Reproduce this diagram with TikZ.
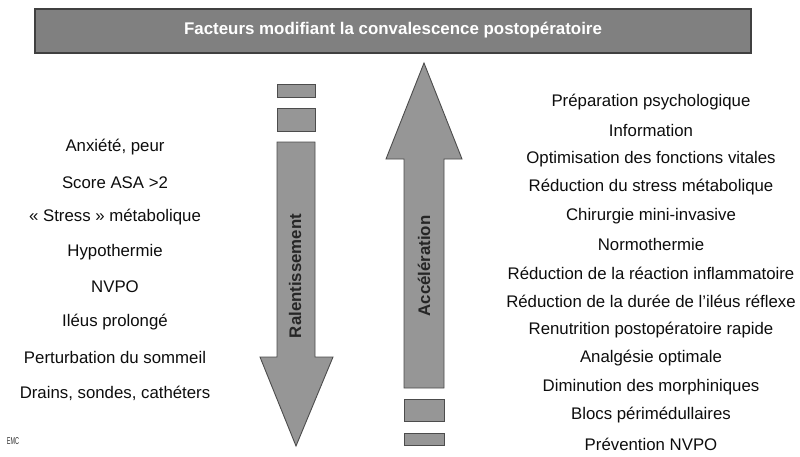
\documentclass[tikz,border=0pt]{standalone}
\usepackage{fontspec}
\setmainfont{Liberation Sans}
\begin{document}
\begin{tikzpicture}[x=1pt,y=-1pt,
  barbox/.style={draw=black!75,line width=1.4pt,fill=black!50},
  arrowshape/.style={draw=black!70,line width=0.9pt,fill=black!41,line join=miter},
  item/.style={font=\fontsize{16.8}{18}\selectfont,text=black!95,inner sep=0pt,anchor=center},
  vlabel/.style={font=\fontsize{16.8}{18}\selectfont\bfseries,text=black!85,rotate=90,inner sep=0pt}]
\useasboundingbox (0,0) rectangle (800,456);
% title bar
\draw[barbox] (35,9) rectangle (751,53);
\node[font=\fontsize{16.9}{18}\selectfont\bfseries,text=white,inner sep=0pt] (title) at (393,30) {Facteurs modifiant la convalescence postopératoire};
% down arrow (Ralentissement)
\draw[arrowshape] (277,84) rectangle (315,97);
\draw[arrowshape] (277,108) rectangle (315,131);
\draw[arrowshape] (277,142) -- (315,142) -- (315,357) -- (333,357) -- (296,446) -- (260,357) -- (277,357) -- cycle;
\node[vlabel] (ral) at (295,276) {Ralentissement};
% up arrow (Accélération)
\draw[arrowshape] (424,63) -- (462,159) -- (444,159) -- (444,388) -- (404,388) -- (404,159) -- (386,159) -- cycle;
\draw[arrowshape] (404,399) rectangle (444,421);
\draw[arrowshape] (404,433) rectangle (444,445);
\node[vlabel] (acc) at (424,266) {Accélération};
% left list
\node[item] (l1) at (115,147) {Anxiété, peur};
\node[item] (l2) at (115,183) {Score ASA >2};
\node[item] (l3) at (115,217) {« Stress » métabolique};
\node[item] (l4) at (115,252) {Hypothermie};
\node[item] (l5) at (115,287) {NVPO};
\node[item] (l6) at (115,322) {Iléus prolongé};
\node[item] (l7) at (115,357) {Perturbation du sommeil};
\node[item] (l8) at (115,393) {Drains, sondes, cathéters};
% right list
\node[item] (r1) at (651,102) {Préparation psychologique};
\node[item] (r2) at (651,130.5) {Information};
\node[item] (r3) at (651,159) {Optimisation des fonctions vitales};
\node[item] (r4) at (651,187.5) {Réduction du stress métabolique};
\node[item] (r5) at (651,216) {Chirurgie mini-invasive};
\node[item] (r6) at (651,244.5) {Normothermie};
\node[item] (r7) at (651,273) {Réduction de la réaction inflammatoire};
\node[item] (r8) at (651,301.5) {Réduction de la durée de l’iléus réflexe};
\node[item] (r9) at (651,330) {Renutrition postopératoire rapide};
\node[item] (r10) at (651,358.5) {Analgésie optimale};
\node[item] (r11) at (651,387) {Diminution des morphiniques};
\node[item] (r12) at (651,415.5) {Blocs périmédullaires};
\node[item] (r13) at (651,444) {Prévention NVPO};
% logo
\node[font=\fontsize{10}{10}\selectfont,xscale=0.55,inner sep=0pt,text=black!80] (emc) at (13,441) {EMC};
\end{tikzpicture}
\end{document}
